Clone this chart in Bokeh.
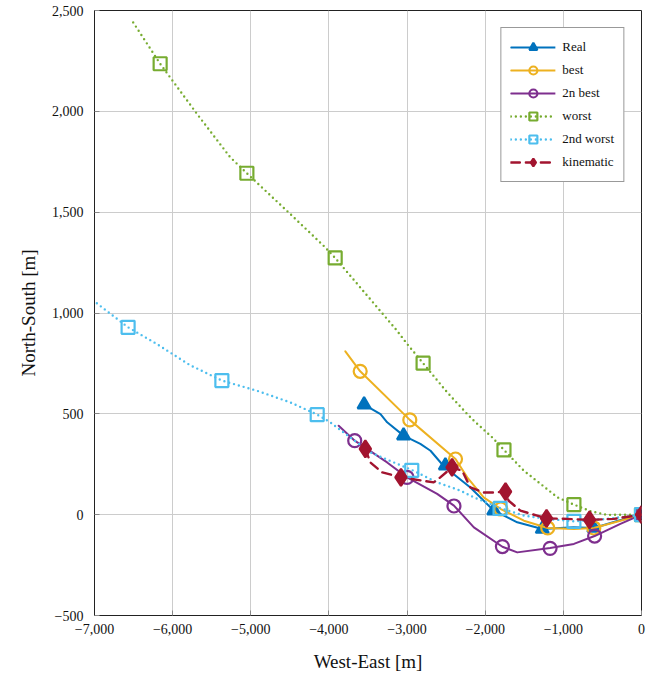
from bokeh.plotting import figure
from bokeh.models import Legend, LegendItem, CustomJSTickFormatter, FixedTicker, Range1d
from bokeh.embed import file_html
from bokeh.resources import INLINE

# ---------------- data ----------------
x_ticks = [-7000, -6000, -5000, -4000, -3000, -2000, -1000, 0]
y_ticks = [-500, 0, 500, 1000, 1500, 2000, 2500]

real_line_x = [-3550, -3340, -3255, -3045, -2830, -2700, -2530, -2190, -1890, -1590, -1270, -870, -610, -300, 0]
real_line_y = [546, 499, 458, 392, 351, 317, 240, 135, 20, -38, -71, -63, -66, -30, 0]
real_mark_x = [-3550, -3045, -2510, -1890, -1270, -610, 0]
real_mark_y = [546, 392, 243, 20, -71, -66, 0]

best_line_x = [-3790, -3600, -2965, -2380, -2230, -2020, -1800, -1505, -1200, -865, -610, -270, 0]
best_line_y = [810, 711, 470, 276, 185, 86, 28, -30, -66, -71, -66, -30, 0]
best_mark_x = [-3600, -2965, -2380, -1800, -1200, -610, 0]
best_mark_y = [711, 470, 276, 28, -66, -66, 0]

best2_line_x = [-3875, -3670, -3255, -3000, -2615, -2400, -2145, -1780, -1590, -1170, -865, -600, -270, 0]
best2_line_y = [441, 367, 259, 185, 103, 45, -63, -159, -187, -165, -145, -106, -46, 0]
best2_mark_x = [-3670, -3000, -2400, -1780, -1170, -600, 0]
best2_mark_y = [367, 185, 43, -158, -167, -106, 0]

worst_line_x = [-6505, -6160, -5690, -5265, -5050, -4495, -4070, -3920, -3130, -3000, -2795, -2490,
                -2230, -2145, -1910, -1760, -1505, -1290, -1075, -865, -650, -440, 0]
worst_line_y = [2441, 2236, 1988, 1773, 1693, 1491, 1334, 1273, 913, 847, 751, 608,
                499, 466, 383, 321, 218, 152, 86, 50, 17, -1, 0]
worst_mark_x = [-6160, -5050, -3920, -2795, -1760, -865, 0]
worst_mark_y = [2236, 1693, 1273, 751, 321, 50, 0]

worst2_line_x = [-6970, -6570, -6205, -5780, -5370, -4925, -4495, -4150, -3983, -3900, -3470, -3170,
                 -2940, -2615, -2315, -2145, -1810, -1505, -1205, -865, -440, 0]
worst2_line_y = [1048, 929, 847, 742, 665, 615, 557, 496, 458, 433, 309, 259,
                 222, 160, 119, 86, 33, -5, -21, -33, -21, 0]
worst2_mark_x = [-6570, -5370, -4150, -2940, -1810, -865, 0]
worst2_mark_y = [929, 665, 496, 220, 31, -33, 0]

kin_line_x = [-3534, -3470, -3320, -3078, -2660, -2575, -2424, -2295, -2190, -2020, -1890, -1740,
              -1700, -1550, -1335, -1215, -950, -665, -355, 0]
kin_line_y = [326, 259, 210, 185, 160, 185, 235, 218, 135, 110, 110, 114,
              69, 20, -5, -18, -21, -26, -21, 0]
kin_mark_x = [-3534, -3078, -2424, -1740, -1215, -665, 0]
kin_mark_y = [326, 185, 235, 114, -18, -26, 0]

labels = ["Real", "best", "2n best", "worst", "2nd worst", "kinematic"]
colors = ["#0072BD", "#EDB120", "#7E2F8E", "#77AC30", "#4DBEEE", "#A2142F"]

FONT = "'Liberation Serif', 'Times New Roman', serif"

p = figure(width=660, height=679, frame_width=547, frame_height=605,
           x_range=Range1d(-7000, 0), y_range=Range1d(-500, 2500),
           min_border_left=94, min_border_right=19, min_border_top=10, min_border_bottom=64,
           output_backend="svg", toolbar_location=None)

p.background_fill_color = "white"
p.border_fill_color = "white"
p.outline_line_color = "#222222"
p.outline_line_width = 1

fmt = CustomJSTickFormatter(code="""
var a = Math.abs(tick).toLocaleString('en-US');
return (tick < 0 ? '\u2212' : '') + a;
""")

for ax, ticks in ((p.xaxis[0], x_ticks), (p.yaxis[0], y_ticks)):
    ax.ticker = FixedTicker(ticks=ticks)
    ax.formatter = fmt
    ax.major_label_text_font = FONT
    ax.major_label_text_font_size = "14px"
    ax.major_label_text_color = "#111111"
    ax.axis_label_text_font = FONT
    ax.axis_label_text_font_size = "19px"
    ax.axis_label_text_font_style = "normal"
    ax.axis_label_text_color = "#111111"
    ax.axis_line_color = "#222222"
    ax.major_tick_in = 5
    ax.major_tick_out = 0
    ax.major_tick_line_color = "#888888"
    ax.minor_tick_line_color = None

p.xaxis.axis_label = "West-East [m]"
p.yaxis.axis_label = "North-South [m]"
p.xaxis.major_label_standoff = 8
p.xaxis.axis_label_standoff = 14
p.yaxis.major_label_standoff = 11
p.yaxis.axis_label_standoff = 10

p.xgrid.ticker = FixedTicker(ticks=x_ticks)
p.ygrid.ticker = FixedTicker(ticks=y_ticks)
p.grid.grid_line_color = "#cccccc"
p.grid.grid_line_width = 1

items = []

def add(i, lx, ly, mx, my, marker, size, fill, dash="solid", lw=2.0):
    c = colors[i]
    r1 = p.line(lx, ly, line_color=c, line_width=lw, line_dash=dash, line_cap="round", line_join="round")
    r2 = p.scatter(mx, my, marker=marker, size=size, line_color=c, line_width=2.2,
                   fill_color=(c if fill else None), fill_alpha=1.0)
    items.append(LegendItem(label=labels[i], renderers=[r1, r2]))

add(0, real_line_x, real_line_y, real_mark_x, real_mark_y, "triangle", 13, True)
add(1, best_line_x, best_line_y, best_mark_x, best_mark_y, "circle", 13, False)
add(2, best2_line_x, best2_line_y, best2_mark_x, best2_mark_y, "circle", 13, False)
add(3, worst_line_x, worst_line_y, worst_mark_x, worst_mark_y, "square", 13, False, dash="0 5", lw=2.4)
add(4, worst2_line_x, worst2_line_y, worst2_mark_x, worst2_mark_y, "square", 13, False, dash="0 5", lw=2.4)
add(5, kin_line_x, kin_line_y, kin_mark_x, kin_mark_y, "diamond", 17, True, dash="9 6", lw=2.4)

legend = Legend(items=items, location="top_right", margin=17, padding=9, spacing=3,
                glyph_width=45, glyph_height=20, label_height=20, label_standoff=7,
                label_text_font=FONT, label_text_font_size="13px", label_text_color="#111111",
                border_line_color="#333333", border_line_width=1, background_fill_color="white",
                background_fill_alpha=1.0)
p.add_layout(legend)

open("out.html", "w").write(file_html(p, INLINE))
